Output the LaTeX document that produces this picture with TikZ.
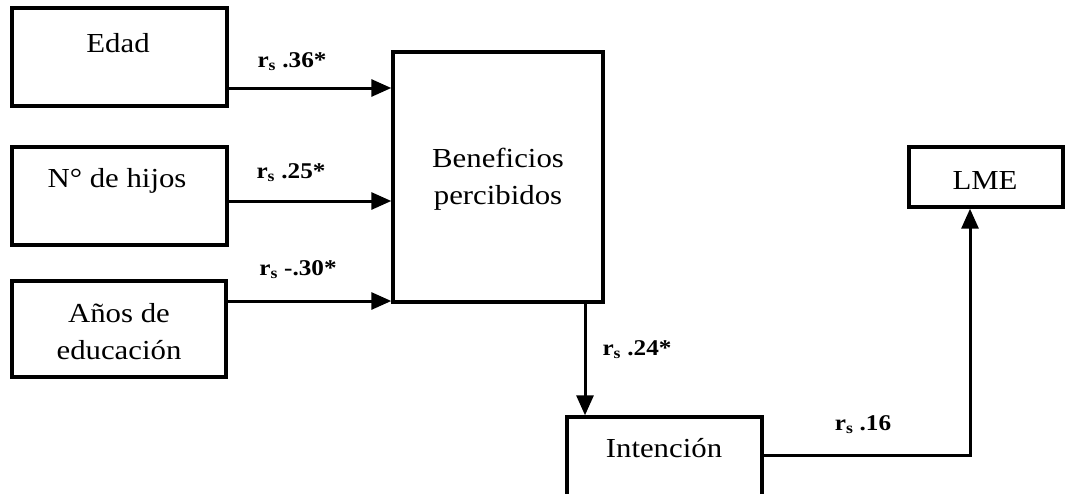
\documentclass[tikz,border=0pt]{standalone}
\usepackage{fontspec}
\setmainfont{Liberation Serif}[FakeStretch=1.12]
\usetikzlibrary{arrows.meta,calc}
\begin{document}
\begin{tikzpicture}[x=1pt,y=-1pt,
  box/.style={draw,line width=3.4pt,rectangle,inner sep=0pt},
  txt/.style={font=\fontsize{27.5}{37}\selectfont,align=center,inner sep=0pt},
  lab/.style={font=\fontsize{22.5}{26}\selectfont\bfseries,inner sep=0pt},
  arr/.style={line width=3pt,-{Triangle[length=20pt,width=17pt]}},
  conn/.style={line width=3pt}]
\clip (0,0) rectangle (1070,493);
\fill[white] (0,0) rectangle (1070,493);
% boxes
\node[box,minimum width=215pt,minimum height=98pt] (edad) at (119.5,57) {};
\node[txt] at (118,43) {Edad};
\node[box,minimum width=215pt,minimum height=98pt] (hijos) at (119.5,196) {};
\node[txt] at (117,181) {N° de hijos};
\node[box,minimum width=214pt,minimum height=96pt] (anos) at (119,329) {};
\node[txt] at (119,332) {Años de\\educación};
\node[box,minimum width=210pt,minimum height=250pt] (ben) at (498,177) {};
\node[txt] at (498,179) {Beneficios\\percibidos};
\node[box,minimum width=195pt,minimum height=82pt] (int) at (664.5,458) {};
\node[txt] at (664,448) {Intención};
\node[box,minimum width=154pt,minimum height=60pt] (lme) at (986,177) {};
\node[txt] at (985,180) {LME};
% connectors
\draw[arr] ([yshift=-31pt]edad.east) -- ([yshift=-31pt]edad.east -| ben.west);
\node[lab] at (292,62) {r\textsubscript{s} .36*};
\draw[arr] ([yshift=-5pt]hijos.east) -- ([yshift=-5pt]hijos.east -| ben.west);
\node[lab] at (291,173) {r\textsubscript{s} .25*};
\draw[arr] ([yshift=28pt]anos.east) -- ([yshift=28pt]anos.east -| ben.west);
\node[lab] at (298,270) {r\textsubscript{s} -.30*};
\draw[arr] ([xshift=87pt]ben.south) -- ([xshift=87pt]ben.south |- int.north);
\node[lab] at (637,350) {r\textsubscript{s} .24*};
\draw[arr] ([yshift=3pt]int.east) -| ([xshift=-16pt]lme.south);
\node[lab] at (863,425) {r\textsubscript{s} .16};
\end{tikzpicture}
\end{document}
